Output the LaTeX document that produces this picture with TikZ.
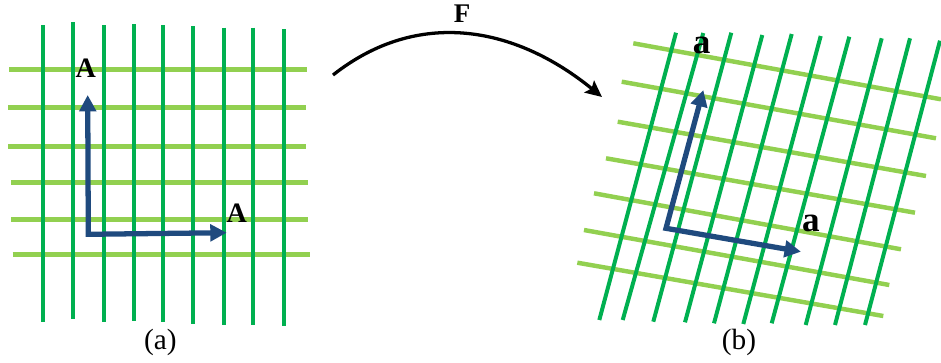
\documentclass[tikz,border=0pt]{standalone}
\usepackage{fontspec}
\setmainfont{Liberation Serif}
\usetikzlibrary{arrows.meta}
\definecolor{gridDark}{HTML}{00B050}
\definecolor{gridLight}{HTML}{92D050}
\definecolor{vecBlue}{HTML}{1F4A7E}
\begin{document}
\begin{tikzpicture}[x=0.03cm,y=-0.03cm,
    warp/.style={gridDark,line width=3.4pt},
    weft/.style={gridLight,line width=3.8pt},
    vec/.style={vecBlue,line width=4.5pt,line join=miter,
      arrows={Triangle[length=14pt,width=14pt]-Triangle[length=14pt,width=14pt]}},
    lbl/.style={inner sep=0pt,font=\fontsize{24}{27}\selectfont\bfseries},
    capt/.style={inner sep=0pt,font=\fontsize{25}{28}\selectfont}]
    \useasboundingbox (0,0) rectangle (941,363);

    % (a) undeformed grid
    \foreach \y\a\b in {
        69.3/9.3/306.7,
        107.3/8/305.7,
        146.3/8/305.7,
        182.7/11.3/308.3,
        219.3/11.3/308.3,
        254.3/12.7/310}{
      \draw[weft] (\a,\y) -- (\b,\y);
    }
    \foreach \x\a\b in {
        42.7/25/322,
        73.3/22.3/319,
        104/25/322,
        133.7/24/320.7,
        163.3/25.3/322,
        192.7/26.3/324,
        224.3/27.7/325,
        252.7/27.7/325,
        284.3/29/326}{
      \draw[warp] (\x,\a) -- (\x,\b);
    }
    \coordinate (O1) at (88.3,234.3);
    \coordinate (U1) at (87.7,95);
    \coordinate (R1) at (226.7,232.7);
    \draw[vec] (U1) -- (O1) -- (R1);
    \node[lbl] (labA1) at (85.7,68) {A};
    \node[lbl] (labA2) at (236.7,213) {A};
    \node[capt] (capa) at (160.3,342) {(a)};

    % mapping F
    \coordinate (Fs) at (333,75);
    \coordinate (Fe) at (602,97);
    \draw[line width=2.8pt,-{Stealth[length=14pt,width=13pt,inset=2.5pt]}]
      (Fs) .. controls (418,8) and (515,26) .. (Fe);
    \node[lbl,font=\fontsize{23}{26}\selectfont\bfseries] (labF) at (462,14) {F};

    % (b) deformed grid
    \foreach \a\b\c\d in {
        633.3/43.3/941/99.3,
        621.7/81.7/936/138.3,
        617.7/121.7/926/176,
        606/158.3/915/212.7,
        594/193.3/901/249.3,
        584/230/889.3/285,
        577.3/262.7/883.3/316}{
      \draw[weft] (\a,\b) -- (\c,\d);
    }
    \foreach \a\b\c\d in {
        676/32.7/599.3/320,
        703.3/33/622.7/320,
        731.3/32.7/653.3/321.7,
        762.3/35/685/322.3,
        791.7/34/714/323.3,
        820.7/36/743.3/324,
        849.3/36.7/771.7/323.3,
        881.7/38.3/805.7/325,
        910/38.3/835/325,
        940/40.7/865/325}{
      \draw[warp] (\a,\b) -- (\c,\d);
    }
    \coordinate (O2) at (666,228.3);
    \coordinate (U2) at (703.3,90);
    \coordinate (R2) at (801,251.7);
    \draw[vec] (U2) -- (O2) -- (R2);
    \node[lbl,font=\fontsize{30}{34}\selectfont\bfseries] (laba1) at (701.7,45) {a};
    \node[lbl,font=\fontsize{30}{34}\selectfont\bfseries] (laba2) at (811,223) {a};
    \node[capt] (capb) at (739,342) {(b)};
\end{tikzpicture}
\end{document}
